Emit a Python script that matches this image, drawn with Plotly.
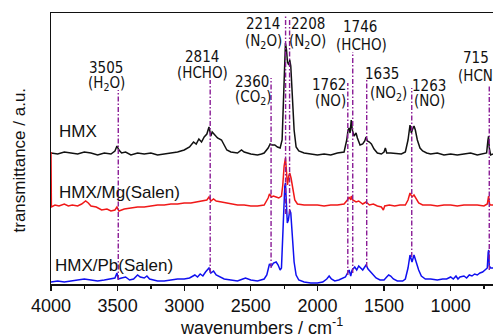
import plotly.graph_objects as go

# ---------------- data ----------------
hmx_wn = [4000, 3950, 3900, 3850, 3800, 3750, 3700, 3650, 3600, 3550, 3520, 3505, 3490, 3470, 3440, 3400,
          3350, 3300, 3250, 3200, 3150, 3100, 3050, 3000, 2960, 2930, 2910, 2890, 2870, 2850, 2830, 2814,
          2800, 2790, 2770, 2750, 2720, 2700, 2680, 2650, 2600, 2570, 2550, 2500, 2450, 2420, 2400, 2370,
          2355, 2340, 2320, 2300, 2280, 2265, 2255, 2245, 2240, 2232, 2225, 2215, 2208, 2200, 2190, 2175,
          2160, 2140, 2100, 2050, 2000, 1950, 1900, 1850, 1800, 1780, 1770, 1762, 1755, 1746, 1738, 1725,
          1710, 1700, 1680, 1660, 1645, 1635, 1625, 1610, 1595, 1575, 1550, 1520, 1500, 1490, 1480, 1450,
          1400, 1370, 1340, 1320, 1305, 1295, 1285, 1275, 1265, 1250, 1230, 1210, 1180, 1150, 1100, 1050,
          1000, 950, 900, 850, 800, 760, 730, 720, 715, 710, 700, 682]
hmx_val = [131, 130, 132, 131, 130, 132, 131, 129, 131, 130, 133, 138, 134, 131, 132, 129,
           131, 130, 131, 129, 130, 131, 132, 134, 137, 142, 140, 145, 142, 147, 150, 157,
           148, 152, 149, 146, 144, 139, 134, 132, 131, 134, 132, 130, 129, 130, 131, 136,
           140, 139, 139, 137, 136, 144, 184, 229, 241, 234, 222, 219, 224, 218, 189, 154,
           137, 133, 131, 130, 129, 130, 129, 131, 132, 144, 154, 156, 151, 164, 154, 148,
           151, 146, 139, 140, 143, 147, 143, 142, 140, 135, 131, 130, 132, 136, 131, 131,
           130, 130, 132, 144, 159, 151, 155, 158, 154, 144, 136, 133, 131, 130, 131, 129,
           130, 129, 130, 131, 129, 130, 131, 144, 148, 136, 129, 130]

mg_wn = [4000, 3997, 3970, 3940, 3900, 3870, 3840, 3800, 3770, 3740, 3720, 3700, 3660, 3620, 3580, 3550,
         3520, 3505, 3490, 3450, 3400, 3350, 3300, 3250, 3200, 3150, 3100, 3050, 3000, 2950, 2900, 2860,
         2830, 2814, 2800, 2780, 2760, 2720, 2680, 2640, 2600, 2550, 2500, 2450, 2400, 2370, 2360, 2345,
         2330, 2310, 2290, 2270, 2260, 2250, 2240, 2232, 2225, 2215, 2208, 2198, 2185, 2170, 2150, 2100,
         2050, 2000, 1950, 1900, 1850, 1800, 1775, 1762, 1750, 1746, 1735, 1710, 1690, 1660, 1635, 1610,
         1580, 1550, 1520, 1505, 1495, 1460, 1420, 1380, 1340, 1320, 1305, 1290, 1275, 1260, 1240, 1210,
         1150, 1100, 1050, 1000, 950, 900, 850, 800, 750, 725, 715, 708, 700, 682]
mg_val = [132, 77, 79, 78, 80, 78, 79, 78, 80, 83, 81, 78, 77, 74, 75, 73,
          74, 77, 73, 75, 76, 77, 77, 78, 79, 79, 80, 80, 81, 81, 82, 83,
          84, 87, 83, 85, 83, 82, 81, 80, 79, 79, 78, 78, 79, 86, 90, 87,
          88, 87, 86, 88, 99, 118, 126, 112, 99, 108, 111, 106, 94, 84, 80, 79,
          79, 79, 78, 79, 79, 80, 84, 87, 84, 88, 84, 82, 83, 80, 82, 79,
          80, 78, 77, 74, 78, 79, 78, 79, 79, 84, 91, 87, 89, 86, 81, 79,
          79, 78, 79, 79, 78, 79, 79, 79, 78, 80, 88, 80, 79, 79]

pb_wn = [4000, 3950, 3900, 3850, 3800, 3750, 3700, 3650, 3600, 3550, 3520, 3505, 3495, 3470, 3440, 3410,
         3380, 3350, 3330, 3300, 3280, 3260, 3230, 3200, 3150, 3100, 3050, 3000, 2960, 2920, 2900, 2880,
         2860, 2840, 2814, 2800, 2780, 2760, 2730, 2700, 2650, 2600, 2560, 2540, 2500, 2450, 2400, 2380,
         2360, 2345, 2330, 2310, 2295, 2280, 2270, 2262, 2252, 2245, 2240, 2232, 2226, 2218, 2208, 2200,
         2190, 2175, 2160, 2140, 2100, 2050, 2000, 1960, 1930, 1912, 1895, 1870, 1840, 1810, 1790, 1770,
         1762, 1750, 1740, 1720, 1705, 1690, 1675, 1660, 1645, 1635, 1620, 1600, 1580, 1560, 1530, 1500,
         1480, 1465, 1450, 1430, 1400, 1360, 1340, 1320, 1305, 1290, 1275, 1260, 1240, 1220, 1190, 1150,
         1100, 1060, 1030, 1000, 980, 960, 945, 930, 900, 880, 860, 840, 820, 800, 780, 760,
         740, 725, 718, 714, 710, 700, 682]
pb_val = [2, 3, 2, 3, 4, 5, 4, 3, 4, 5, 6, 11, 5, 6, 7, 4,
          5, 9, 7, 6, 8, 5, 4, 3, 3, 4, 5, 5, 6, 9, 7, 10,
          8, 12, 16, 11, 13, 9, 7, 5, 4, 3, 5, 6, 4, 3, 5, 9,
          20, 18, 21, 22, 19, 14, 16, 44, 84, 98, 101, 84, 61, 64, 74, 71,
          49, 22, 9, 4, 2, 1, 1, 2, 5, 8, 5, 3, 4, 6, 7, 12,
          14, 8, 14, 17, 14, 18, 16, 14, 17, 19, 15, 12, 8, 6, 4, 4,
          7, 9, 8, 5, 3, 3, 5, 16, 29, 22, 29, 22, 14, 8, 5, 5,
          4, 5, 5, 7, 5, 8, 5, 7, 8, 6, 9, 8, 10, 9, 11, 12,
          14, 16, 32, 34, 18, 16, 16]

series_names = ["HMX", "HMX/Mg(Salen)", "HMX/Pb(Salen)"]

# assigned bands: label number, species, marker line wavenumber
band_labels = ["3505", "2814", "2360", "2214", "2208", "1762", "1746", "1635", "1263", "715"]
band_species = ["(H<sub>2</sub>O)", "(HCHO)", "(CO<sub>2</sub>)", "(N<sub>2</sub>O)", "(N<sub>2</sub>O)",
                "(NO)", "(HCHO)", "(NO<sub>2</sub>)", "(NO)", "(HCN)"]
band_lines = [3495, 2805, 2348, 2239, 2209, 1772, 1735, 1630, 1292, 710]

x_ticks = [4000, 3500, 3000, 2500, 2000, 1500, 1000]

# ---------------- layout geometry ----------------
line_top = [194, 204, 206, 269, 266, 201, 232, 206, 196, 199]
line_bot = [4, 11, 16, 70, 70, 9, 11, 17, 27, 14]
num_pos = [(3589, 216), (2865, 227), (2490, 202), (2408, 260), (2070, 260),
           (1913, 199), (1680, 257), (1515, 210), (1163, 198), (810, 226)]
spec_pos = [(3585, 201), (2865, 211), (2480, 187), (2408, 243), (2075, 243),
            (1905, 183), (1670, 239), (1470, 191), (1160, 183), (792, 208)]
name_pos = [(57, 153), (57, 92), (53, 19)]

colors = ["#111111", "#F01818", "#1010F0"]
purple = "#8A1C96"
narrow = "DejaVu Sans Condensed, Liberation Sans, Arial"
sans = "Liberation Sans, Arial, Helvetica, sans-serif"

W, H = 493, 335
ML, MR, MT, MB = 51, 0, 13, 51
pw = W - ML - MR

fig = go.Figure()
for wn, val, c in [(hmx_wn, hmx_val, colors[0]), (mg_wn, mg_val, colors[1]), (pb_wn, pb_val, colors[2])]:
    fig.add_trace(go.Scatter(x=wn, y=val, mode="lines", line=dict(color=c, width=1.5),
                             showlegend=False, hoverinfo="skip"))

shapes = []
for xl, yt, yb in zip(band_lines, line_top, line_bot):
    shapes.append(dict(type="line", xref="x", yref="y", x0=xl, x1=xl, y0=yb, y1=yt,
                       line=dict(color=purple, width=1.4, dash="5px,2px,1.5px,2px"), layer="above"))

annotations = []
for t, (x, y) in zip(band_labels, num_pos):
    annotations.append(dict(x=x, y=y, xref="x", yref="y", text=t, showarrow=False,
                            font=dict(family=narrow, size=15, color="#111"),
                            xanchor="center", yanchor="middle"))
for t, (x, y) in zip(band_species, spec_pos):
    annotations.append(dict(x=x, y=y, xref="x", yref="y", text=t, showarrow=False,
                            font=dict(family=narrow, size=15, color="#111"),
                            xanchor="center", yanchor="middle"))
for t, (px, v) in zip(series_names, name_pos):
    annotations.append(dict(x=(px - ML) / pw, y=v, xref="paper", yref="y", text=t, showarrow=False,
                            font=dict(family=sans, size=17, color="#111"),
                            xanchor="left", yanchor="middle"))

annotations.append(dict(x=(261 - ML) / pw, y=-(313 - 284) / 271, xref="paper", yref="paper",
                        text="wavenumbers / cm<sup>-1</sup>", showarrow=False,
                        font=dict(family=sans, size=18, color="#111"),
                        xanchor="center", yanchor="top"))
annotations.append(dict(x=(18.5 - ML) / pw, y=(284 - 160) / 271, xref="paper", yref="paper",
                        text="transmittance / a.u.", showarrow=False, textangle=-90,
                        font=dict(family=sans, size=17, color="#111"),
                        xanchor="center", yanchor="middle"))

fig.update_layout(
    width=W, height=H,
    margin=dict(l=ML, r=MR, t=MT, b=MB, pad=0),
    paper_bgcolor="white", plot_bgcolor="white",
    shapes=shapes, annotations=annotations,
    xaxis=dict(range=[4000, 682], tickvals=x_ticks, ticks="outside", ticklen=5, tickwidth=1.2,
               tickcolor="#111", showline=True, linecolor="#111", linewidth=1.5, mirror=True,
               showgrid=False, zeroline=False, automargin=False,
               tickfont=dict(family=sans, size=18, color="#111"),
               minor=dict(dtick=250, tick0=4000, ticks="outside", ticklen=3, tickwidth=1.2,
                          tickcolor="#111", showgrid=False)),
    yaxis=dict(range=[0, 271], showline=True, linecolor="#111", linewidth=1.5, ticks="",
               showticklabels=False, showgrid=False, zeroline=False, mirror=False, automargin=False),
)

fig.write_html("out.html", config={"displayModeBar": False, "staticPlot": True},
               post_script="document.body.style.margin='0';document.body.style.padding='0';")
